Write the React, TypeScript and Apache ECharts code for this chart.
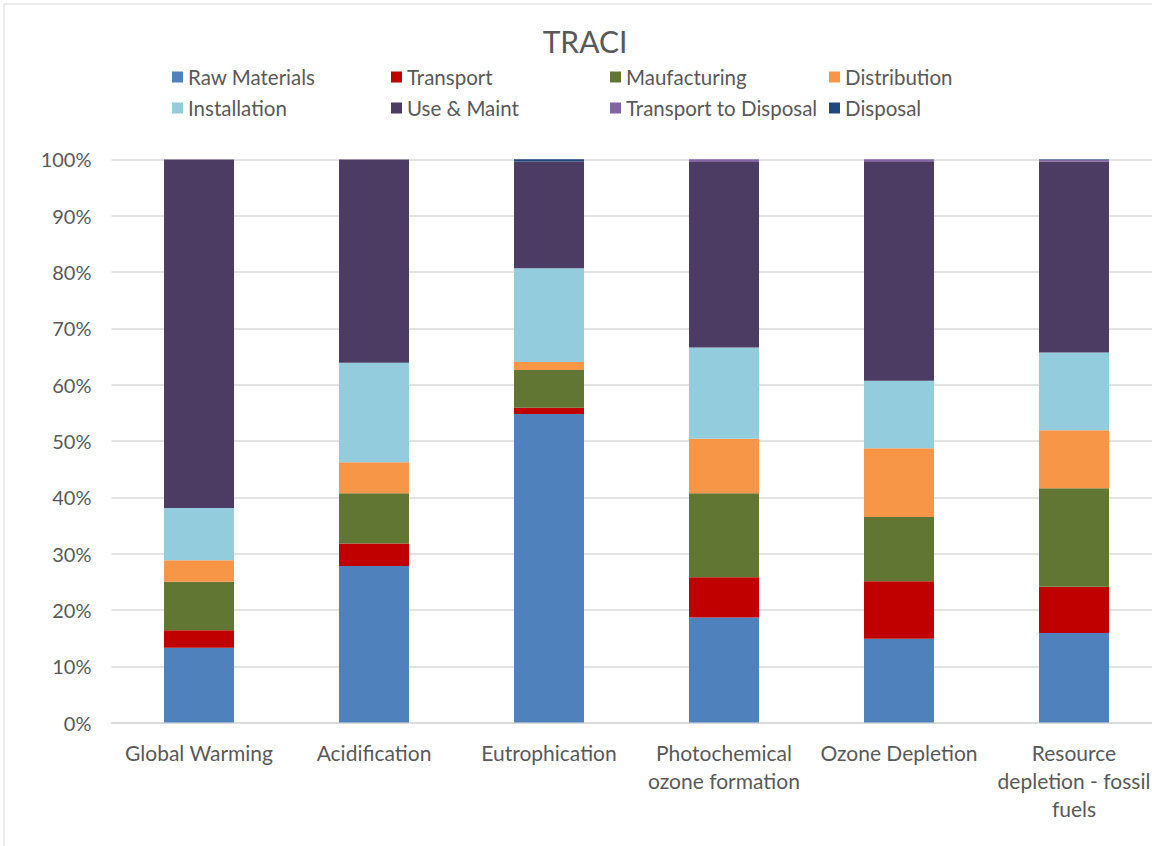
import React, { useEffect, useRef } from "react";
import * as echarts from "echarts";

const categories = [
  "Global Warming",
  "Acidification",
  "Eutrophication",
  "Photochemical\nozone formation",
  "Ozone Depletion",
  "Resource\ndepletion - fossil\nfuels",
];

const seriesNames = [
  "Raw Materials",
  "Transport",
  "Maufacturing",
  "Distribution",
  "Installation",
  "Use & Maint",
  "Transport to Disposal",
  "Disposal",
];

const rawMaterials = [13.3, 27.8, 54.8, 18.65, 14.9, 15.9];
const transport = [3.1, 4.0, 1.1, 7.15, 10.2, 8.2];
const manufacturing = [8.6, 8.9, 6.7, 14.9, 11.4, 17.5];
const distribution = [3.8, 5.5, 1.4, 9.7, 12.2, 10.3];
const installation = [9.3, 17.7, 16.65, 16.2, 12.0, 13.8];
const useMaint = [61.8, 36.0, 18.95, 32.9, 38.8, 33.9];
const transportToDisposal = [0.1, 0.1, 0.0, 0.5, 0.5, 0.3];
const disposal = [0.0, 0.0, 0.4, 0.0, 0.0, 0.1];

const seriesValues = [
  rawMaterials,
  transport,
  manufacturing,
  distribution,
  installation,
  useMaint,
  transportToDisposal,
  disposal,
];

const colors = [
  "#4F81BD",
  "#C00000",
  "#607632",
  "#F79646",
  "#93CDDD",
  "#4C3B62",
  "#8064A2",
  "#1F497D",
];

const yTicks = [0, 10, 20, 30, 40, 50, 60, 70, 80, 90, 100];

const FONT = "Lato, 'Open Sans', sans-serif";
const TEXT = "#595959";

export default function App() {
  const ref = useRef<HTMLDivElement>(null);

  useEffect(() => {
    if (!ref.current) return;
    const chart = echarts.init(ref.current, undefined, { renderer: "svg" });

    const legendCols = [172, 391, 610, 829];
    const legendRows = [65, 96];
    const legends = seriesNames.map((name, i) => ({
      data: [name],
      left: legendCols[i % 4],
      top: legendRows[Math.floor(i / 4)],
      padding: 0,
      itemWidth: 11,
      itemHeight: 11,
      icon: "rect",
      selectedMode: false,
      textStyle: {
        fontFamily: FONT,
        fontSize: 20.5,
        lineHeight: 24,
        color: TEXT,
      },
    }));

    chart.setOption({
      animation: false,
      backgroundColor: "#ffffff",
      textStyle: { fontFamily: FONT },
      title: {
        text: "TRACI",
        left: "center",
        top: 21,
        textStyle: {
          fontFamily: FONT,
          fontSize: 30,
          fontWeight: "normal",
          color: TEXT,
        },
      },
      legend: legends,
      graphic: [
        {
          type: "rect",
          z: -10,
          shape: { x: 4, y: 4, width: 1300, height: 1000 },
          style: { fill: "none", stroke: "#d9d9d9", lineWidth: 1 },
          silent: true,
        },
      ],
      grid: { left: 111.5, top: 159.3, width: 1050, height: 563.3 },
      xAxis: {
        type: "category",
        data: categories,
        axisLine: { show: true, lineStyle: { color: "#d9d9d9", width: 1.5 } },
        axisTick: { show: false },
        axisLabel: {
          interval: 0,
          margin: 16,
          fontFamily: FONT,
          fontSize: 21,
          lineHeight: 28,
          color: TEXT,
        },
      },
      yAxis: {
        type: "value",
        min: yTicks[0],
        max: yTicks[yTicks.length - 1],
        interval: 10,
        axisLine: { show: false },
        axisTick: { show: false },
        axisLabel: {
          formatter: "{value}%",
          margin: 20,
          fontFamily: FONT,
          fontSize: 20,
          color: TEXT,
        },
        splitLine: { lineStyle: { color: "#d9d9d9", width: 1.5 } },
      },
      series: seriesNames.map((name, i) => ({
        name,
        type: "bar",
        stack: "total",
        barWidth: 70,
        itemStyle: { color: colors[i] },
        data: seriesValues[i],
      })),
    });

    return () => chart.dispose();
  }, []);

  return (
    <div
      style={{
        position: "fixed",
        left: 0,
        top: 0,
        width: 1152,
        height: 846,
        overflow: "hidden",
        background: "#ffffff",
      }}
    >
      <div ref={ref} style={{ width: 1170, height: 846 }} />
    </div>
  );
}
